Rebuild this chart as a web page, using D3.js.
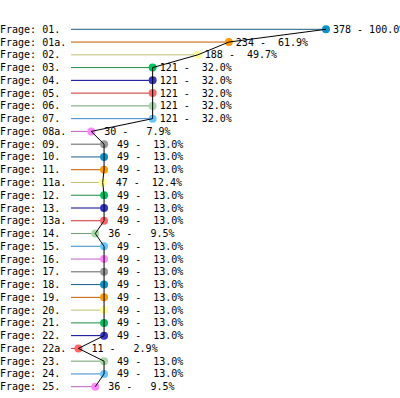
<!DOCTYPE html>
<html>
<head>
<meta charset="utf-8">
<script src="https://cdn.jsdelivr.net/npm/d3@7"></script>
<style>
  body { margin: 0; background: #fff; }
  svg { display: block; }
  text { font-family: "DejaVu Sans Mono", "Liberation Mono", monospace; font-size: 10px; fill: #000; white-space: pre; }
</style>
</head>
<body>
<svg id="chart" width="400" height="398"></svg>
<script>
const categories = ["01.", "01a.", "02.", "03.", "04.", "05.", "06.", "07.", "08a.", "09.",
  "10.", "11.", "11a.", "12.", "13.", "13a.", "14.", "15.", "16.", "17.",
  "18.", "19.", "20.", "21.", "22.", "22a.", "23.", "24.", "25."];
const counts = [378, 234, 188, 121, 121, 121, 121, 121, 30, 49,
  49, 49, 47, 49, 49, 49, 36, 49, 49, 49,
  49, 49, 49, 49, 49, 11, 49, 49, 36];
const percents = [100.0, 61.9, 49.7, 32.0, 32.0, 32.0, 32.0, 32.0, 7.9, 13.0,
  13.0, 13.0, 12.4, 13.0, 13.0, 13.0, 9.5, 13.0, 13.0, 13.0,
  13.0, 13.0, 13.0, 13.0, 13.0, 2.9, 13.0, 13.0, 9.5];
const labelPrefix = "Frage: ";

// 10-colour cycle: dot fill and darker line stroke
const dotColors = ["#0a94c8", "#ff9a00", "#ffff99", "#00c060", "#3535c8",
  "#ff6666", "#a8d8a8", "#66c8ff", "#ff88ff", "#999999"];
const lineColors = ["#1a5c88", "#c05a00", "#c0c070", "#208a40", "#000090",
  "#c83030", "#70a070", "#3a88c8", "#c060c0", "#606060"];

const svg = d3.select("#chart");
const data = categories.map((c, i) => ({ cat: c, value: counts[i], pct: percents[i], i }));

const x = d3.scaleLinear().domain([0, 378]).range([71, 326]);
const y = d3.scalePoint().domain(categories).range([29.3, 386.7]);

// Row labels
svg.append("g").selectAll("text")
  .data(data)
  .enter().append("text")
  .attr("x", 0)
  .attr("y", d => y(d.cat))
  .attr("dy", "0.35em")
  .text(d => labelPrefix + d.cat);

// Horizontal coloured lines
svg.append("g").selectAll("line")
  .data(data)
  .enter().append("line")
  .attr("x1", x(0))
  .attr("x2", d => x(d.value))
  .attr("y1", d => y(d.cat))
  .attr("y2", d => y(d.cat))
  .attr("stroke", d => lineColors[d.i % 10])
  .attr("stroke-width", 1);

// Dots
svg.append("g").selectAll("circle")
  .data(data)
  .enter().append("circle")
  .attr("cx", d => x(d.value))
  .attr("cy", d => y(d.cat))
  .attr("r", 4)
  .attr("fill", d => dotColors[d.i % 10]);

// Connecting polyline
const line = d3.line()
  .x(d => x(d.value))
  .y(d => y(d.cat));

svg.append("path")
  .datum(data)
  .attr("fill", "none")
  .attr("stroke", "#000")
  .attr("stroke-width", 1)
  .attr("d", line);

// Value labels
const fmt = d3.format(".1f");
svg.append("g").selectAll("text")
  .data(data)
  .enter().append("text")
  .attr("x", d => x(d.value) + 7)
  .attr("y", d => y(d.cat))
  .attr("dy", "0.35em")
  .text(d => String(d.value).padStart(3, " ") + " - " + fmt(d.pct).padStart(5, " ") + "%");
</script>
</body>
</html>
